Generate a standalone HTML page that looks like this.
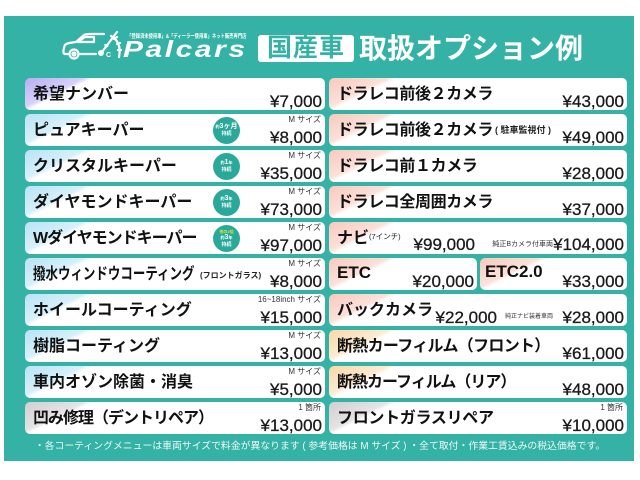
<!DOCTYPE html>
<html><head><meta charset="utf-8">
<style>
*{box-sizing:border-box}
body{margin:0;width:640px;height:480px;background:#fff;position:relative;overflow:hidden;font-family:"Liberation Sans","Noto Sans CJK JP",sans-serif}
.panel{position:absolute;left:4px;top:16px;width:630px;height:445px;background:#34b2a5}
.card{position:absolute;height:32px;border-radius:5px;background:#fff;overflow:hidden}
.L{left:25px;width:300px}
.R{left:329px;width:298px}
.t{position:absolute;left:8px;top:7px;font-size:16px;line-height:20px;font-weight:700;color:#111;white-space:nowrap}
.p{position:absolute;right:3px;top:14.5px;font-size:17px;line-height:17px;color:#1a1a1a;white-space:nowrap;-webkit-text-stroke:0.3px #1a1a1a}
.s{position:absolute;right:4px;top:1px;font-size:8px;line-height:9px;color:#333;white-space:nowrap}
.tiny{position:absolute;font-size:8px;line-height:10px;font-weight:700;color:#222;white-space:nowrap}
.lav{background:linear-gradient(154deg,#b7adf0 0,#d6d1f8 26px,#fff 30px)}
.blu{background:linear-gradient(154deg,#b9e3f5 0,#d6f0fa 26px,#fff 30px)}
.gry{background:linear-gradient(154deg,#cfcfcf 0,#e4e4e4 26px,#fff 30px)}
.pnk{background:linear-gradient(154deg,#f7c9be 0,#fbe1da 26px,#fff 30px)}
.pch{background:linear-gradient(154deg,#f9d7a8 0,#fcebd2 26px,#fff 30px)}
.b{position:absolute;left:188px;top:2.5px;width:27px;height:27px;border-radius:50%;background:#2aa99b;color:#fff;font-weight:700;display:flex;flex-direction:column;align-items:center;justify-content:center;line-height:1}
.b .a{font-size:7px;line-height:8px;white-space:nowrap}
.b .a small{font-size:4px}
.b .c{font-size:5px;line-height:6px}
.b .g{font-size:4px;line-height:5px;color:#c9ea3c;white-space:nowrap}
.hdr{position:absolute;color:#fff;white-space:nowrap}
.foot{position:absolute;left:0;width:640px;top:440px;text-align:center;font-size:9.85px;line-height:14px;color:rgba(255,255,255,0.92);white-space:nowrap}
</style></head>
<body>
<div class="panel"></div>

<!-- header -->
<svg style="position:absolute;left:62px;top:29px" width="62" height="32" viewBox="0 0 62 32">
 <g fill="none" stroke="#fff" stroke-width="2.2" stroke-linecap="round" stroke-linejoin="round">
  <path d="M6 25 L3 25 Q1 25 1.5 21 L2.5 17 Q3 15 7 14 L14 13 L22 6 Q24 5 28 5 L42 5"/>
  <path d="M18 25 L34 25"/>
  <path d="M16 13 L23 8 L32 8 L32 13 Z"/>
  <circle cx="12" cy="25" r="4.5"/>
  <circle cx="12" cy="25" r="1.5"/>
  <path d="M40 23 L55 3"/>
  <path d="M49 7 Q60 13 57 28"/>
  <path d="M52 10 L55 8 M55 15 L58 14 M56 21 L59 21"/>
 </g>
 <circle cx="39" cy="24" r="3" fill="#fff"/>
 <text x="42" y="20" font-size="7" fill="#fff" font-family="Liberation Sans" font-weight="700">P</text>
 <text x="44" y="28" font-size="7" fill="#fff" font-family="Liberation Sans" font-weight="700">C</text>
</svg>
<div class="hdr" style="left:127px;top:33px;font-size:9px;line-height:10px;transform:scale(0.48,0.6);transform-origin:left top;font-weight:700">「登録済未使用車」&amp;「ディーラー使用車」ネット販売専門店</div>
<div class="hdr" style="left:123px;top:38px;font-size:23px;line-height:23px;font-weight:700;font-style:italic;letter-spacing:2px;transform:scaleX(1.3);transform-origin:left top">Palcars</div>
<div style="position:absolute;left:258px;top:35px;width:96px;height:27px;background:#fff;border-radius:3px;color:#34b2a5;font-weight:700;font-size:25px;line-height:27px;text-align:center;letter-spacing:1px">国産車</div>
<div class="hdr" style="left:359px;top:34px;font-size:28px;line-height:30px;font-weight:700">取扱オプション例</div>

<!-- left column -->
<div class="card L lav" style="top:78px"><div class="t">希望ナンバー</div><div class="p">¥7,000</div></div>
<div class="card L blu" style="top:114px"><div class="t">ピュアキーパー</div><div class="b"><div class="a"><small>約</small>3ヶ月</div><div class="c">持続</div></div><div class="s">M サイズ</div><div class="p">¥8,000</div></div>
<div class="card L blu" style="top:150px"><div class="t">クリスタルキーパー</div><div class="b"><div class="a"><small>約</small>1<small>年</small></div><div class="c">持続</div></div><div class="s">M サイズ</div><div class="p">¥35,000</div></div>
<div class="card L blu" style="top:186px"><div class="t">ダイヤモンドキーパー</div><div class="b"><div class="a"><small>約</small>3<small>年</small></div><div class="c">持続</div></div><div class="s">M サイズ</div><div class="p">¥73,000</div></div>
<div class="card L blu" style="top:222px"><div class="t" style="letter-spacing:-1px">Wダイヤモンドキーパー</div><div class="b"><div class="g">他の2倍</div><div class="a"><small>約</small>3<small>年</small></div><div class="c">持続</div></div><div class="s">M サイズ</div><div class="p">¥97,000</div></div>
<div class="card L blu" style="top:258px"><div class="t" style="transform:scaleX(0.78);transform-origin:left top">撥水ウィンドウコーティング</div><div class="tiny" style="left:175px;top:13px">(フロントガラス)</div><div class="s">M サイズ</div><div class="p">¥8,000</div></div>
<div class="card L blu" style="top:294px"><div class="t">ホイールコーティング</div><div class="s">16~18inch サイズ</div><div class="p">¥15,000</div></div>
<div class="card L blu" style="top:330px"><div class="t">樹脂コーティング</div><div class="s">M サイズ</div><div class="p">¥13,000</div></div>
<div class="card L blu" style="top:366px"><div class="t">車内オゾン除菌・消臭</div><div class="s">M サイズ</div><div class="p">¥5,000</div></div>
<div class="card L gry" style="top:402px"><div class="t" style="letter-spacing:-1px">凹み修理（デントリペア）</div><div class="s">1 箇所</div><div class="p">¥13,000</div></div>

<!-- right column -->
<div class="card R pnk" style="top:78px"><div class="t" style="letter-spacing:-0.4px">ドラレコ前後２カメラ</div><div class="p">¥43,000</div></div>
<div class="card R pnk" style="top:114px"><div class="t" style="letter-spacing:-0.4px">ドラレコ前後２カメラ</div><div class="tiny" style="left:166px;top:11px;font-size:9px">( 駐車監視付 )</div><div class="p">¥49,000</div></div>
<div class="card R pnk" style="top:150px"><div class="t" style="letter-spacing:-0.4px">ドラレコ前１カメラ</div><div class="p">¥28,000</div></div>
<div class="card R pnk" style="top:186px"><div class="t" style="letter-spacing:-0.4px">ドラレコ全周囲カメラ</div><div class="p">¥37,000</div></div>
<div class="card R pnk" style="top:222px"><div class="t">ナビ</div><div class="tiny" style="left:40px;top:10px;font-size:7.5px;font-weight:400">(7インチ)</div><div class="p" style="right:152px;top:13.5px">¥99,000</div><div class="tiny" style="right:74px;top:18px;font-size:7px;font-weight:400;color:#333">純正Bカメラ付車両</div><div class="p" style="top:13.5px">¥104,000</div></div>
<div class="card pnk" style="top:258px;left:329px;width:148px"><div class="t" style="top:5px;font-family:'Liberation Sans',sans-serif;font-size:17px">ETC</div><div class="p">¥20,000</div></div>
<div class="card pnk" style="top:258px;left:480px;width:147px"><div class="t" style="left:5px;top:4px;font-family:'Liberation Sans',sans-serif;font-size:17px">ETC2.0</div><div class="p">¥33,000</div></div>
<div class="card R pnk" style="top:294px"><div class="t">バックカメラ</div><div class="p" style="right:130px">¥22,000</div><div class="tiny" style="right:74px;top:18px;font-size:6px;font-weight:400;color:#333">純正ナビ装着車両</div><div class="p">¥28,000</div></div>
<div class="card R pch" style="top:330px"><div class="t" style="letter-spacing:-0.7px">断熱カーフィルム（フロント）</div><div class="p">¥61,000</div></div>
<div class="card R pch" style="top:366px"><div class="t" style="letter-spacing:-1px">断熱カーフィルム（リア）</div><div class="p">¥48,000</div></div>
<div class="card R gry" style="top:402px"><div class="t" style="letter-spacing:-0.3px">フロントガラスリペア</div><div class="s">1 箇所</div><div class="p">¥10,000</div></div>

<div class="foot">・各コーティングメニューは車両サイズで料金が異なります ( 参考価格は M サイズ ) ・全て取付・作業工賃込みの税込価格です。</div>
</body></html>
